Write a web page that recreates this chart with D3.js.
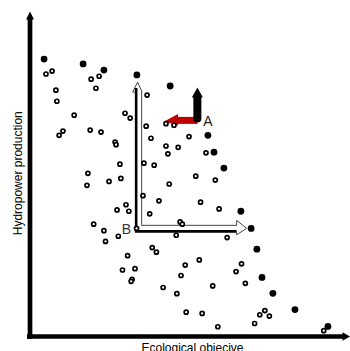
<!DOCTYPE html>
<html>
<head>
<meta charset="utf-8">
<script src="https://cdn.jsdelivr.net/npm/d3@7"></script>
<style>
  html, body { margin: 0; padding: 0; background: #fff; }
  svg { display: block; font-family: "Liberation Sans", Arial, sans-serif; }
</style>
</head>
<body>
<svg id="chart" width="350" height="351"></svg>
<script>
// pareto-front solutions (filled) and dominated solutions (open), arbitrary units 0-100
const frontX = [4.4, 16.6, 23.1, 33.4, 43.8, 55.6, 57.5, 60.6, 65.9, 69.1, 70.9, 72.5, 75.9, 82.8, 93.1]
const frontY = [85.5, 84.0, 82.1, 80.6, 77.2, 62.0, 56.8, 51.9, 38.6, 33.3, 26.9, 18.2, 13.3, 8.3, 3.1]

const otherX = [5.0, 6.9, 8.1, 8.4, 19.1, 21.6, 20.6, 13.8, 29.7, 31.3, 9.1, 10.3, 18.8, 22.2, 26.6, 26.9,
    36.6, 36.3, 37.8, 28.1, 35.6, 38.8, 18.1, 42.5, 45.0, 43.1, 49.7, 42.5, 46.3, 55.0, 17.8, 24.7,
    28.4, 35.3, 40.3, 43.5, 30.0, 30.9, 27.2, 37.4, 19.9, 23.1, 23.6, 27.6, 33.3, 38.2, 39.5, 30.5,
    28.9, 32.8, 31.9, 31.6, 41.6, 51.8, 57.9, 53.3, 59.1, 46.9, 47.6, 45.7, 61.6, 52.9, 48.5, 47.2,
    66.1, 64.4, 67.3, 57.1, 45.9, 48.8, 53.8, 58.7, 70.2, 71.8, 73.4, 74.8, 91.8]
const otherY = [80.9, 81.8, 75.9, 72.5, 79.3, 80.2, 76.5, 68.2, 68.8, 67.3, 62.0, 63.3, 63.6, 63.0, 59.9, 59.1,
    74.4, 64.8, 61.1, 53.1, 53.4, 52.8, 50.3, 65.6, 65.1, 56.3, 61.6, 58.7, 58.3, 56.6, 46.6, 47.8,
    48.7, 43.4, 41.8, 47.0, 40.6, 38.6, 39.0, 37.8, 34.6, 32.6, 29.3, 30.9, 33.3, 27.4, 26.0, 24.9,
    20.5, 20.9, 17.6, 17.0, 15.1, 49.4, 48.2, 41.4, 39.3, 35.3, 34.6, 31.2, 30.5, 23.6, 22.0, 18.8,
    22.4, 20.0, 16.4, 15.6, 13.2, 7.5, 7.1, 3.0, 4.0, 6.7, 8.0, 6.3, 1.8]

// annotation points: solution B with its improvement directions, solution A with its trade-off
const pointB = [32.7, 32.1]
const pointBTop = 78.4
const pointBRight = 67.7
const pointA = [52.3, 66.6]
const pointATop = 76.7
const pointALeft = 41.9

const axisLabels = ['Ecological objecive', 'Hydropower production']

const svg = d3.select('#chart')

const x = d3.scaleLinear().domain([0, 100]).range([30, 350])
const y = d3.scaleLinear().domain([0, 100]).range([336.5, 12])

// axes with arrow heads
svg.append('line')
    .attr('x1', x(0)).attr('x2', x(0))
    .attr('y1', y(0) + 2.5).attr('y2', y(100) + 6)
    .attr('stroke', '#000').attr('stroke-width', 4.7)
svg.append('path')
    .attr('d', `M${x(0) - 4},${y(100) + 7.5}L${x(0)},${y(100) - 0.5}L${x(0) + 4},${y(100) + 7.5}Z`)
    .attr('fill', '#000')

svg.append('line')
    .attr('x1', x(0) - 3).attr('x2', x(100) - 6)
    .attr('y1', y(0)).attr('y2', y(0))
    .attr('stroke', '#000').attr('stroke-width', 4.7)
svg.append('path')
    .attr('d', `M${x(100) - 7.5},${y(0) - 4.3}L${x(100)},${y(0)}L${x(100) - 7.5},${y(0) + 4.3}Z`)
    .attr('fill', '#000')

svg.append('text')
    .attr('x', x(50) + 2.5).attr('y', 351.5)
    .attr('text-anchor', 'middle').attr('font-size', 12)
    .text(axisLabels[0])

svg.append('text')
    .attr('transform', `translate(21.5, ${y(50) - 1}) rotate(-90)`)
    .attr('text-anchor', 'middle').attr('font-size', 12)
    .text(axisLabels[1])

// white double-outlined arrows from B
const bx = x(pointB[0]), by = y(pointB[1])
const vTip = y(pointBTop), hTip = x(pointBRight)
const g = svg.append('g')

g.append('path')
    .attr('d', `M${bx + 7},${by - 7}V${vTip + 10}L${bx + 7.5},${vTip + 10}L${bx + 3},${vTip}L${bx - 2},${vTip + 10}L${bx},${vTip + 10}` +
        `M${bx + 7},${by - 7}H${hTip - 10}L${hTip - 10},${by - 12}L${hTip},${by - 4}L${hTip - 10},${by + 2.5}L${hTip - 10},${by}`)
    .attr('fill', 'none').attr('stroke', '#444').attr('stroke-width', 1)

g.append('path')
    .attr('d', `M${bx + 1.5},${vTip + 6}V${by - 1}H${hTip - 10}`)
    .attr('fill', 'none').attr('stroke', '#000').attr('stroke-width', 2.6)

svg.append('text')
    .attr('x', bx - 3.5).attr('y', by + 2)
    .attr('text-anchor', 'end').attr('font-size', 14).attr('fill', '#333')
    .text('B')

// red and black arrows at A
const ax = x(pointA[0]), ay = y(pointA[1])
const rTip = x(pointALeft), aTop = y(pointATop)

svg.append('line')
    .attr('x1', ax).attr('x2', rTip + 13)
    .attr('y1', ay).attr('y2', ay)
    .attr('stroke', '#c00000').attr('stroke-width', 7)
svg.append('path')
    .attr('d', `M${rTip + 14},${ay - 6.5}L${rTip},${ay + 1}L${rTip + 14},${ay + 5}Z`)
    .attr('fill', '#c00000')

svg.append('line')
    .attr('x1', ax).attr('x2', ax)
    .attr('y1', ay - 2).attr('y2', aTop + 9)
    .attr('stroke', '#000').attr('stroke-width', 8).attr('stroke-linecap', 'round')
svg.append('path')
    .attr('d', `M${ax - 5.5},${aTop + 10}L${ax},${aTop}L${ax + 5.5},${aTop + 10}Z`)
    .attr('fill', '#000')

svg.append('text')
    .attr('x', ax + 6).attr('y', ay + 6)
    .attr('font-size', 14).attr('fill', '#222')
    .text('A')

// solutions
svg.append('g').selectAll('circle')
    .data(d3.zip(otherX, otherY))
    .join('circle')
    .attr('cx', d => x(d[0])).attr('cy', d => y(d[1]))
    .attr('r', 2.0)
    .attr('fill', '#fff').attr('stroke', '#000').attr('stroke-width', 1.7)

svg.append('g').selectAll('circle')
    .data(d3.zip(frontX, frontY))
    .join('circle')
    .attr('cx', d => x(d[0])).attr('cy', d => y(d[1]))
    .attr('r', 3.4)
    .attr('fill', '#000')
</script>
</body>
</html>
